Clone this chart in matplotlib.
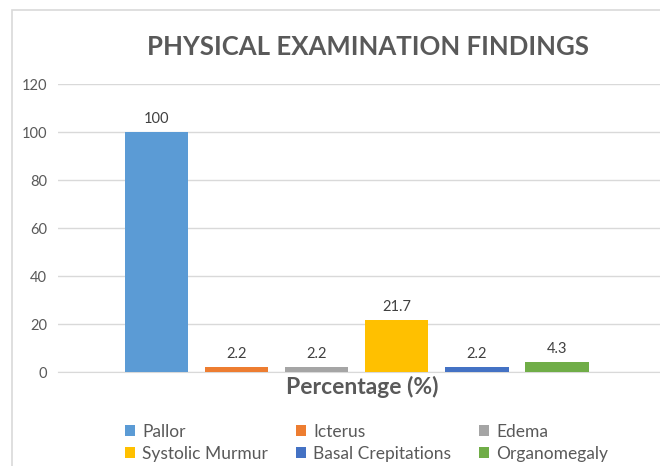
import numpy as np
import matplotlib.pyplot as plt
from matplotlib.patches import Rectangle

plt.rcParams['font.family'] = ['Lato', 'DejaVu Sans']

findings = ["Pallor", "Icterus", "Edema", "Systolic Murmur", "Basal Crepitations", "Organomegaly"]
percentages = [100, 2.2, 2.2, 21.7, 2.2, 4.3]
value_labels = ["100", "2.2", "2.2", "21.7", "2.2", "4.3"]
y_ticks = [0, 20, 40, 60, 80, 100, 120]
colours = ["#5B9BD5", "#ED7D31", "#A5A5A5", "#FFC000", "#4472C4", "#70AD47"]

fig = plt.figure(figsize=(6.6, 4.66), dpi=100)
ax = fig.add_axes([58 / 660, 1 - 372 / 466, 1 - 58 / 660 + 0.01, (372 - 84) / 466])

# chart border, like the excel chart frame
fig.patches.append(Rectangle((12 / 660, -0.05), 1.2, 1 - 10 / 466 + 0.05, transform=fig.transFigure,
                             fill=False, edgecolor="#D9D9D9", linewidth=1.2))

x = np.arange(len(findings))
bars = []
for i in range(len(findings)):
    b = ax.bar(x[i], percentages[i], width=0.79, color=colours[i], label=findings[i], zorder=3)
    bars.append(b[0])
    ax.text(x[i], percentages[i] + 2.5, value_labels[i], ha="center", va="bottom",
            fontsize=10.5, color="#404040")

ax.set_ylim(0, 120)
ax.set_xlim(-1.233, 6.37)
ax.set_yticks(y_ticks)
ax.tick_params(axis="y", length=0, labelsize=10.5, labelcolor="#595959", pad=8)
ax.set_xticks([])
ax.grid(axis="y", color="#D9D9D9", linewidth=1, zorder=0)
for s in ["top", "right", "left"]:
    ax.spines[s].set_visible(False)
ax.spines["bottom"].set_color("#D9D9D9")
ax.set_facecolor("none")

ax.set_xlabel("Percentage (%)", fontsize=16.5, fontweight="bold", color="#595959", labelpad=3)
fig.text(0.558, 1 - 47 / 466, "PHYSICAL EXAMINATION FINDINGS", ha="center", va="center",
         fontsize=18.5, fontweight="bold", color="#595959")

# legend fills column by column, so reorder to read row by row
order = [0, 3, 1, 4, 2, 5]
fig.legend(handles=[bars[i] for i in order], labels=[findings[i] for i in order], ncol=3,
           loc="center", bbox_to_anchor=(0.555, 1 - 443 / 466), frameon=False, fontsize=12.5,
           labelcolor="#595959", handlelength=0.6, handleheight=0.6, handletextpad=0.4,
           columnspacing=1.6, labelspacing=0.35)

fig.savefig("out.png", dpi=100)
